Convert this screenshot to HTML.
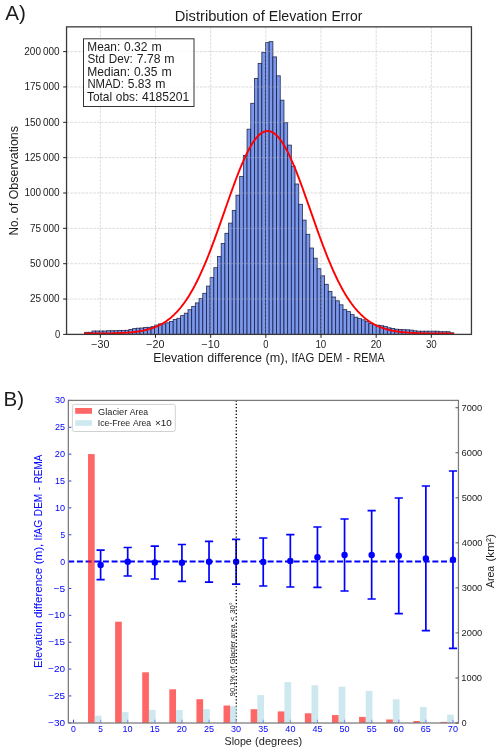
<!DOCTYPE html>
<html><head><meta charset="utf-8"><title>Elevation Error</title>
<style>svg{will-change:transform;}html,body{margin:0;padding:0;background:#fff;}body{width:500px;height:753px;overflow:hidden;font-family:'Liberation Sans', sans-serif;}</style>
</head><body>
<svg width="500" height="753" viewBox="0 0 500 753" style="display:block;font-family:'Liberation Sans', sans-serif">
<rect width="500" height="753" fill="#fff"/>
<g fill="#7b98ec" stroke="#0a0f30" stroke-opacity="0.8" stroke-width="0.85"><rect x="84.60" y="332.30" width="3.692" height="2.10"/><rect x="88.29" y="332.30" width="3.692" height="2.10"/><rect x="91.98" y="331.00" width="3.692" height="3.40"/><rect x="95.68" y="331.00" width="3.692" height="3.40"/><rect x="99.37" y="331.00" width="3.692" height="3.40"/><rect x="103.06" y="331.00" width="3.692" height="3.40"/><rect x="106.75" y="330.70" width="3.692" height="3.70"/><rect x="110.44" y="330.70" width="3.692" height="3.70"/><rect x="114.14" y="330.70" width="3.692" height="3.70"/><rect x="117.83" y="330.40" width="3.692" height="4.00"/><rect x="121.52" y="330.40" width="3.692" height="4.00"/><rect x="125.21" y="330.30" width="3.692" height="4.10"/><rect x="128.90" y="329.50" width="3.692" height="4.90"/><rect x="132.60" y="328.60" width="3.692" height="5.80"/><rect x="136.29" y="328.20" width="3.692" height="6.20"/><rect x="139.98" y="328.00" width="3.692" height="6.40"/><rect x="143.67" y="327.50" width="3.692" height="6.90"/><rect x="147.36" y="327.30" width="3.692" height="7.10"/><rect x="151.06" y="326.60" width="3.692" height="7.80"/><rect x="154.75" y="325.00" width="3.692" height="9.40"/><rect x="158.44" y="323.90" width="3.692" height="10.50"/><rect x="162.13" y="323.80" width="3.692" height="10.60"/><rect x="165.82" y="322.80" width="3.692" height="11.60"/><rect x="169.52" y="321.50" width="3.692" height="12.90"/><rect x="173.21" y="319.50" width="3.692" height="14.90"/><rect x="176.90" y="318.30" width="3.692" height="16.10"/><rect x="180.59" y="315.60" width="3.692" height="18.80"/><rect x="184.28" y="313.20" width="3.692" height="21.20"/><rect x="187.98" y="309.70" width="3.692" height="24.70"/><rect x="191.67" y="306.40" width="3.692" height="28.00"/><rect x="195.36" y="302.90" width="3.692" height="31.50"/><rect x="199.05" y="298.60" width="3.692" height="35.80"/><rect x="202.74" y="293.30" width="3.692" height="41.10"/><rect x="206.44" y="286.10" width="3.692" height="48.30"/><rect x="210.13" y="277.60" width="3.692" height="56.80"/><rect x="213.82" y="267.70" width="3.692" height="66.70"/><rect x="217.51" y="256.40" width="3.692" height="78.00"/><rect x="221.20" y="243.50" width="3.692" height="90.90"/><rect x="224.90" y="233.30" width="3.692" height="101.10"/><rect x="228.59" y="223.10" width="3.692" height="111.30"/><rect x="232.28" y="210.40" width="3.692" height="124.00"/><rect x="235.97" y="195.20" width="3.692" height="139.20"/><rect x="239.66" y="176.40" width="3.692" height="158.00"/><rect x="243.36" y="155.50" width="3.692" height="178.90"/><rect x="247.05" y="129.20" width="3.692" height="205.20"/><rect x="250.74" y="103.30" width="3.692" height="231.10"/><rect x="254.43" y="78.40" width="3.692" height="256.00"/><rect x="258.12" y="63.50" width="3.692" height="270.90"/><rect x="261.82" y="52.30" width="3.692" height="282.10"/><rect x="265.51" y="42.60" width="3.692" height="291.80"/><rect x="269.20" y="41.60" width="3.692" height="292.80"/><rect x="272.89" y="56.90" width="3.692" height="277.50"/><rect x="276.58" y="75.80" width="3.692" height="258.60"/><rect x="280.28" y="100.20" width="3.692" height="234.20"/><rect x="283.97" y="122.70" width="3.692" height="211.70"/><rect x="287.66" y="145.10" width="3.692" height="189.30"/><rect x="291.35" y="166.20" width="3.692" height="168.20"/><rect x="295.04" y="184.00" width="3.692" height="150.40"/><rect x="298.74" y="204.30" width="3.692" height="130.10"/><rect x="302.43" y="220.10" width="3.692" height="114.30"/><rect x="306.12" y="234.30" width="3.692" height="100.10"/><rect x="309.81" y="248.00" width="3.692" height="86.40"/><rect x="313.50" y="258.20" width="3.692" height="76.20"/><rect x="317.20" y="268.70" width="3.692" height="65.70"/><rect x="320.89" y="275.80" width="3.692" height="58.60"/><rect x="324.58" y="284.30" width="3.692" height="50.10"/><rect x="328.27" y="291.40" width="3.692" height="43.00"/><rect x="331.96" y="297.00" width="3.692" height="37.40"/><rect x="335.66" y="300.80" width="3.692" height="33.60"/><rect x="339.35" y="304.80" width="3.692" height="29.60"/><rect x="343.04" y="309.60" width="3.692" height="24.80"/><rect x="346.73" y="311.60" width="3.692" height="22.80"/><rect x="350.42" y="314.60" width="3.692" height="19.80"/><rect x="354.12" y="317.20" width="3.692" height="17.20"/><rect x="357.81" y="318.60" width="3.692" height="15.80"/><rect x="361.50" y="319.80" width="3.692" height="14.60"/><rect x="365.19" y="321.60" width="3.692" height="12.80"/><rect x="368.88" y="323.60" width="3.692" height="10.80"/><rect x="372.58" y="324.70" width="3.692" height="9.70"/><rect x="376.27" y="325.20" width="3.692" height="9.20"/><rect x="379.96" y="325.70" width="3.692" height="8.70"/><rect x="383.65" y="326.50" width="3.692" height="7.90"/><rect x="387.34" y="327.80" width="3.692" height="6.60"/><rect x="391.04" y="328.50" width="3.692" height="5.90"/><rect x="394.73" y="329.20" width="3.692" height="5.20"/><rect x="398.42" y="329.50" width="3.692" height="4.90"/><rect x="402.11" y="329.70" width="3.692" height="4.70"/><rect x="405.80" y="329.80" width="3.692" height="4.60"/><rect x="409.50" y="330.10" width="3.692" height="4.30"/><rect x="413.19" y="330.80" width="3.692" height="3.60"/><rect x="416.88" y="331.20" width="3.692" height="3.20"/><rect x="420.57" y="331.20" width="3.692" height="3.20"/><rect x="424.26" y="331.20" width="3.692" height="3.20"/><rect x="427.96" y="331.20" width="3.692" height="3.20"/><rect x="431.65" y="331.20" width="3.692" height="3.20"/><rect x="435.34" y="331.20" width="3.692" height="3.20"/><rect x="439.03" y="331.70" width="3.692" height="2.70"/><rect x="442.72" y="331.70" width="3.692" height="2.70"/><rect x="446.42" y="331.70" width="3.692" height="2.70"/><rect x="450.11" y="332.80" width="3.692" height="1.60"/></g>
<path d="M100.35 26.85V334.4 M155.52 26.85V334.4 M210.68 26.85V334.4 M265.85 26.85V334.4 M321.02 26.85V334.4 M376.18 26.85V334.4 M431.35 26.85V334.4 M66.55 299.05H471.45 M66.55 263.70H471.45 M66.55 228.35H471.45 M66.55 193.00H471.45 M66.55 157.65H471.45 M66.55 122.30H471.45 M66.55 86.95H471.45 M66.55 51.60H471.45" stroke="#b0b0b0" stroke-opacity="0.6" stroke-width="0.75" stroke-dasharray="2.66 1.15" fill="none"/>
<path d="M83.97,333.58 L85.20,333.58 L86.43,333.57 L87.66,333.57 L88.90,333.57 L90.13,333.56 L91.36,333.56 L92.59,333.55 L93.83,333.54 L95.06,333.54 L96.29,333.53 L97.52,333.52 L98.76,333.51 L99.99,333.50 L101.22,333.49 L102.45,333.48 L103.69,333.46 L104.92,333.45 L106.15,333.43 L107.38,333.41 L108.62,333.39 L109.85,333.36 L111.08,333.34 L112.32,333.31 L113.55,333.28 L114.78,333.24 L116.01,333.20 L117.25,333.16 L118.48,333.12 L119.71,333.07 L120.94,333.01 L122.18,332.95 L123.41,332.88 L124.64,332.81 L125.87,332.73 L127.11,332.65 L128.34,332.55 L129.57,332.45 L130.80,332.34 L132.04,332.22 L133.27,332.09 L134.50,331.95 L135.73,331.80 L136.97,331.63 L138.20,331.45 L139.43,331.26 L140.67,331.05 L141.90,330.82 L143.13,330.58 L144.36,330.32 L145.60,330.04 L146.83,329.74 L148.06,329.41 L149.29,329.07 L150.53,328.70 L151.76,328.30 L152.99,327.87 L154.22,327.42 L155.46,326.94 L156.69,326.42 L157.92,325.87 L159.15,325.28 L160.39,324.66 L161.62,324.00 L162.85,323.30 L164.08,322.56 L165.32,321.77 L166.55,320.94 L167.78,320.05 L169.02,319.13 L170.25,318.14 L171.48,317.11 L172.71,316.02 L173.95,314.88 L175.18,313.67 L176.41,312.41 L177.64,311.09 L178.88,309.70 L180.11,308.25 L181.34,306.73 L182.57,305.15 L183.81,303.49 L185.04,301.77 L186.27,299.98 L187.50,298.11 L188.74,296.17 L189.97,294.16 L191.20,292.07 L192.43,289.91 L193.67,287.68 L194.90,285.37 L196.13,282.98 L197.37,280.52 L198.60,277.99 L199.83,275.39 L201.06,272.71 L202.30,269.97 L203.53,267.15 L204.76,264.27 L205.99,261.32 L207.23,258.31 L208.46,255.24 L209.69,252.11 L210.92,248.92 L212.16,245.68 L213.39,242.40 L214.62,239.06 L215.85,235.69 L217.09,232.28 L218.32,228.84 L219.55,225.37 L220.78,221.88 L222.02,218.37 L223.25,214.85 L224.48,211.33 L225.72,207.80 L226.95,204.27 L228.18,200.76 L229.41,197.27 L230.65,193.79 L231.88,190.35 L233.11,186.95 L234.34,183.58 L235.58,180.27 L236.81,177.01 L238.04,173.81 L239.27,170.69 L240.51,167.64 L241.74,164.67 L242.97,161.79 L244.20,159.00 L245.44,156.32 L246.67,153.74 L247.90,151.28 L249.13,148.94 L250.37,146.72 L251.60,144.62 L252.83,142.67 L254.07,140.85 L255.30,139.17 L256.53,137.65 L257.76,136.27 L259.00,135.04 L260.23,133.98 L261.46,133.07 L262.69,132.33 L263.93,131.75 L265.16,131.33 L266.39,131.08 L267.62,131.00 L268.86,131.08 L270.09,131.34 L271.32,131.75 L272.55,132.34 L273.79,133.08 L275.02,133.99 L276.25,135.06 L277.48,136.29 L278.72,137.67 L279.95,139.20 L281.18,140.87 L282.42,142.69 L283.65,144.65 L284.88,146.75 L286.11,148.97 L287.35,151.32 L288.58,153.78 L289.81,156.36 L291.04,159.04 L292.28,161.83 L293.51,164.71 L294.74,167.68 L295.97,170.73 L297.21,173.86 L298.44,177.05 L299.67,180.31 L300.90,183.63 L302.14,186.99 L303.37,190.40 L304.60,193.84 L305.83,197.31 L307.07,200.81 L308.30,204.32 L309.53,207.85 L310.77,211.38 L312.00,214.90 L313.23,218.42 L314.46,221.93 L315.70,225.42 L316.93,228.89 L318.16,232.33 L319.39,235.74 L320.63,239.11 L321.86,242.44 L323.09,245.73 L324.32,248.96 L325.56,252.15 L326.79,255.28 L328.02,258.35 L329.25,261.36 L330.49,264.31 L331.72,267.19 L332.95,270.01 L334.18,272.75 L335.42,275.43 L336.65,278.03 L337.88,280.56 L339.12,283.02 L340.35,285.40 L341.58,287.71 L342.81,289.94 L344.05,292.10 L345.28,294.19 L346.51,296.20 L347.74,298.14 L348.98,300.00 L350.21,301.79 L351.44,303.52 L352.67,305.17 L353.91,306.75 L355.14,308.27 L356.37,309.72 L357.60,311.11 L358.84,312.43 L360.07,313.69 L361.30,314.89 L362.53,316.04 L363.77,317.13 L365.00,318.16 L366.23,319.14 L367.47,320.07 L368.70,320.95 L369.93,321.78 L371.16,322.57 L372.40,323.31 L373.63,324.01 L374.86,324.67 L376.09,325.29 L377.33,325.88 L378.56,326.43 L379.79,326.94 L381.02,327.43 L382.26,327.88 L383.49,328.30 L384.72,328.70 L385.95,329.07 L387.19,329.42 L388.42,329.74 L389.65,330.04 L390.88,330.32 L392.12,330.58 L393.35,330.83 L394.58,331.05 L395.82,331.26 L397.05,331.45 L398.28,331.63 L399.51,331.80 L400.75,331.95 L401.98,332.09 L403.21,332.22 L404.44,332.34 L405.68,332.45 L406.91,332.55 L408.14,332.65 L409.37,332.73 L410.61,332.81 L411.84,332.88 L413.07,332.95 L414.30,333.01 L415.54,333.07 L416.77,333.12 L418.00,333.16 L419.23,333.20 L420.47,333.24 L421.70,333.28 L422.93,333.31 L424.17,333.34 L425.40,333.36 L426.63,333.39 L427.86,333.41 L429.10,333.43 L430.33,333.45 L431.56,333.46 L432.79,333.48 L434.03,333.49 L435.26,333.50 L436.49,333.51 L437.72,333.52 L438.96,333.53 L440.19,333.54 L441.42,333.54 L442.65,333.55 L443.89,333.56 L445.12,333.56 L446.35,333.57 L447.58,333.57 L448.82,333.57 L450.05,333.58 L451.28,333.58 L452.52,333.58 L453.75,333.58" stroke="#ff0000" stroke-width="1.9" fill="none" stroke-linejoin="round"/>
<rect x="66.55" y="26.85" width="404.90" height="307.55" fill="none" stroke="#3a3a3a" stroke-width="1.3"/>
<path d="M100.35 334.4v3.4 M155.52 334.4v3.4 M210.68 334.4v3.4 M265.85 334.4v3.4 M321.02 334.4v3.4 M376.18 334.4v3.4 M431.35 334.4v3.4 M66.55 334.40h-3.4 M66.55 299.05h-3.4 M66.55 263.70h-3.4 M66.55 228.35h-3.4 M66.55 193.00h-3.4 M66.55 157.65h-3.4 M66.55 122.30h-3.4 M66.55 86.95h-3.4 M66.55 51.60h-3.4" stroke="#222" stroke-width="1.0" fill="none"/>
<text x="91.18" y="348.00" font-size="10.00" fill="#1c1c1c" textLength="18.19" lengthAdjust="spacingAndGlyphs">−30</text>
<text x="146.35" y="348.00" font-size="10.00" fill="#1c1c1c" textLength="18.19" lengthAdjust="spacingAndGlyphs">−20</text>
<text x="201.51" y="348.00" font-size="10.00" fill="#1c1c1c" textLength="18.19" lengthAdjust="spacingAndGlyphs">−10</text>
<text x="263.23" y="348.00" font-size="10.00" fill="#1c1c1c" textLength="5.21" lengthAdjust="spacingAndGlyphs">0</text>
<text x="315.41" y="348.00" font-size="10.00" fill="#1c1c1c" textLength="10.84" lengthAdjust="spacingAndGlyphs">10</text>
<text x="370.66" y="348.00" font-size="10.00" fill="#1c1c1c" textLength="10.91" lengthAdjust="spacingAndGlyphs">20</text>
<text x="425.93" y="348.00" font-size="10.00" fill="#1c1c1c" textLength="10.81" lengthAdjust="spacingAndGlyphs">30</text>
<text x="54.93" y="337.65" font-size="10.00" fill="#1c1c1c" textLength="5.21" lengthAdjust="spacingAndGlyphs">0</text>
<text x="29.97" y="302.30" font-size="10.00" fill="#1c1c1c" textLength="29.69" lengthAdjust="spacingAndGlyphs">25 000</text>
<text x="30.07" y="266.95" font-size="10.00" fill="#1c1c1c" textLength="29.59" lengthAdjust="spacingAndGlyphs">50 000</text>
<text x="30.01" y="231.60" font-size="10.00" fill="#1c1c1c" textLength="29.65" lengthAdjust="spacingAndGlyphs">75 000</text>
<text x="24.38" y="196.25" font-size="10.00" fill="#1c1c1c" textLength="35.30" lengthAdjust="spacingAndGlyphs">100 000</text>
<text x="24.38" y="160.90" font-size="10.00" fill="#1c1c1c" textLength="35.30" lengthAdjust="spacingAndGlyphs">125 000</text>
<text x="24.38" y="125.55" font-size="10.00" fill="#1c1c1c" textLength="35.30" lengthAdjust="spacingAndGlyphs">150 000</text>
<text x="24.38" y="90.20" font-size="10.00" fill="#1c1c1c" textLength="35.30" lengthAdjust="spacingAndGlyphs">175 000</text>
<text x="24.31" y="54.85" font-size="10.00" fill="#1c1c1c" textLength="35.36" lengthAdjust="spacingAndGlyphs">200 000</text>
<text x="174.70" y="21.30" font-size="14.20" fill="#1c1c1c" textLength="73.58" lengthAdjust="spacingAndGlyphs">Distribution</text>
<text x="252.48" y="21.30" font-size="14.20" fill="#1c1c1c" textLength="12.27" lengthAdjust="spacingAndGlyphs">of</text>
<text x="268.70" y="21.30" font-size="14.20" fill="#1c1c1c" textLength="58.42" lengthAdjust="spacingAndGlyphs">Elevation</text>
<text x="331.46" y="21.30" font-size="14.20" fill="#1c1c1c" textLength="30.87" lengthAdjust="spacingAndGlyphs">Error</text>
<text x="153.29" y="361.90" font-size="12.24" fill="#1c1c1c" textLength="50.38" lengthAdjust="spacingAndGlyphs">Elevation</text>
<text x="207.38" y="361.90" font-size="12.24" fill="#1c1c1c" textLength="54.62" lengthAdjust="spacingAndGlyphs">difference</text>
<text x="265.63" y="361.90" font-size="12.24" fill="#1c1c1c" textLength="22.46" lengthAdjust="spacingAndGlyphs">(m),</text>
<text x="291.59" y="361.90" font-size="12.24" fill="#1c1c1c" textLength="22.63" lengthAdjust="spacingAndGlyphs">IfAG</text>
<text x="317.96" y="361.90" font-size="12.24" fill="#1c1c1c" textLength="24.28" lengthAdjust="spacingAndGlyphs">DEM</text>
<text x="345.91" y="361.90" font-size="12.24" fill="#1c1c1c" textLength="3.93" lengthAdjust="spacingAndGlyphs">-</text>
<text x="353.52" y="361.90" font-size="12.24" fill="#1c1c1c" textLength="31.04" lengthAdjust="spacingAndGlyphs">REMA</text>
<g transform="translate(18.2,180.5) rotate(-90)">
<text x="-54.90" y="0.00" font-size="12.47" fill="#1c1c1c" textLength="18.08" lengthAdjust="spacingAndGlyphs">No.</text>
<text x="-33.03" y="0.00" font-size="12.47" fill="#1c1c1c" textLength="10.77" lengthAdjust="spacingAndGlyphs">of</text>
<text x="-18.85" y="0.00" font-size="12.47" fill="#1c1c1c" textLength="73.28" lengthAdjust="spacingAndGlyphs">Observations</text>
</g>
<text x="5.20" y="20.00" font-size="20.87" fill="#1c1c1c" textLength="20.65" lengthAdjust="spacingAndGlyphs">A)</text>
<rect x="83.5" y="38.8" width="110.5" height="67.7" fill="#fff" fill-opacity="0.82" stroke="#000" stroke-opacity="0.8" stroke-width="1.0"/>
<text x="87.34" y="50.50" font-size="12.16" fill="#1c1c1c" textLength="32.87" lengthAdjust="spacingAndGlyphs">Mean:</text>
<text x="124.02" y="50.50" font-size="12.16" fill="#1c1c1c" textLength="23.41" lengthAdjust="spacingAndGlyphs">0.32</text>
<text x="151.53" y="50.50" font-size="12.16" fill="#1c1c1c" textLength="10.24" lengthAdjust="spacingAndGlyphs">m</text>
<text x="87.38" y="63.00" font-size="12.16" fill="#1c1c1c" textLength="17.60" lengthAdjust="spacingAndGlyphs">Std</text>
<text x="108.78" y="63.00" font-size="12.16" fill="#1c1c1c" textLength="24.10" lengthAdjust="spacingAndGlyphs">Dev:</text>
<text x="136.81" y="63.00" font-size="12.16" fill="#1c1c1c" textLength="23.64" lengthAdjust="spacingAndGlyphs">7.78</text>
<text x="164.28" y="63.00" font-size="12.16" fill="#1c1c1c" textLength="10.24" lengthAdjust="spacingAndGlyphs">m</text>
<text x="87.32" y="75.50" font-size="12.16" fill="#1c1c1c" textLength="42.74" lengthAdjust="spacingAndGlyphs">Median:</text>
<text x="133.91" y="75.50" font-size="12.16" fill="#1c1c1c" textLength="23.45" lengthAdjust="spacingAndGlyphs">0.35</text>
<text x="161.42" y="75.50" font-size="12.16" fill="#1c1c1c" textLength="10.24" lengthAdjust="spacingAndGlyphs">m</text>
<text x="87.38" y="88.00" font-size="12.16" fill="#1c1c1c" textLength="36.44" lengthAdjust="spacingAndGlyphs">NMAD:</text>
<text x="127.82" y="88.00" font-size="12.16" fill="#1c1c1c" textLength="23.40" lengthAdjust="spacingAndGlyphs">5.83</text>
<text x="155.22" y="88.00" font-size="12.16" fill="#1c1c1c" textLength="10.24" lengthAdjust="spacingAndGlyphs">m</text>
<text x="86.91" y="100.50" font-size="12.09" fill="#1c1c1c" textLength="25.25" lengthAdjust="spacingAndGlyphs">Total</text>
<text x="115.87" y="100.50" font-size="12.09" fill="#1c1c1c" textLength="22.42" lengthAdjust="spacingAndGlyphs">obs:</text>
<text x="142.11" y="100.50" font-size="12.09" fill="#1c1c1c" textLength="47.26" lengthAdjust="spacingAndGlyphs">4185201</text>
<path d="M68.35 561.5H458.45" stroke="#0000ff" stroke-width="1.8" stroke-dasharray="5.95 2.72" stroke-dashoffset="0.1" fill="none"/>
<path d="M100.61 550.10V579.60M96.51 550.10h8.2M96.51 579.60h8.2 M127.71 547.50V576.00M123.61 547.50h8.2M123.61 576.00h8.2 M154.81 546.20V579.00M150.72 546.20h8.2M150.72 579.00h8.2 M181.92 544.50V581.30M177.82 544.50h8.2M177.82 581.30h8.2 M209.03 541.30V582.10M204.93 541.30h8.2M204.93 582.10h8.2 M236.13 539.40V584.20M232.03 539.40h8.2M232.03 584.20h8.2 M263.24 538.00V586.00M259.13 538.00h8.2M259.13 586.00h8.2 M290.34 534.60V587.00M286.24 534.60h8.2M286.24 587.00h8.2 M317.45 527.00V587.40M313.35 527.00h8.2M313.35 587.40h8.2 M344.55 519.00V591.00M340.45 519.00h8.2M340.45 591.00h8.2 M371.66 510.60V599.00M367.56 510.60h8.2M367.56 599.00h8.2 M398.76 498.00V613.60M394.66 498.00h8.2M394.66 613.60h8.2 M425.87 486.00V630.60M421.76 486.00h8.2M421.76 630.60h8.2 M452.97 471.00V648.40M448.87 471.00h8.2M448.87 648.40h8.2" stroke="#0000ff" stroke-width="1.7" fill="none"/>
<circle cx="100.61" cy="565.00" r="3.2" fill="#0000ff"/>
<circle cx="127.71" cy="561.80" r="3.2" fill="#0000ff"/>
<circle cx="154.81" cy="562.50" r="3.2" fill="#0000ff"/>
<circle cx="181.92" cy="562.80" r="3.2" fill="#0000ff"/>
<circle cx="209.03" cy="561.80" r="3.2" fill="#0000ff"/>
<circle cx="236.13" cy="561.80" r="3.2" fill="#0000ff"/>
<circle cx="263.24" cy="562.00" r="3.2" fill="#0000ff"/>
<circle cx="290.34" cy="560.90" r="3.2" fill="#0000ff"/>
<circle cx="317.45" cy="557.20" r="3.2" fill="#0000ff"/>
<circle cx="344.55" cy="555.00" r="3.2" fill="#0000ff"/>
<circle cx="371.66" cy="554.90" r="3.2" fill="#0000ff"/>
<circle cx="398.76" cy="555.80" r="3.2" fill="#0000ff"/>
<circle cx="425.87" cy="558.40" r="3.2" fill="#0000ff"/>
<circle cx="452.97" cy="559.70" r="3.2" fill="#0000ff"/>
<path d="M236.3 400.4V723.0" stroke="#000" stroke-width="1.35" stroke-dasharray="1.3 2.02" fill="none"/>
<g transform="translate(234.6,695.8) rotate(-90)">
<text x="-0.33" y="0.00" font-size="7.50" fill="#111" textLength="21.00" lengthAdjust="spacingAndGlyphs">90.1%</text>
<text x="22.97" y="0.00" font-size="7.50" fill="#111" textLength="6.48" lengthAdjust="spacingAndGlyphs">of</text>
<text x="31.47" y="0.00" font-size="7.50" fill="#111" textLength="23.65" lengthAdjust="spacingAndGlyphs">Glacier</text>
<text x="57.23" y="0.00" font-size="7.50" fill="#111" textLength="14.15" lengthAdjust="spacingAndGlyphs">area</text>
<text x="74.40" y="0.00" font-size="7.50" fill="#111" textLength="5.03" lengthAdjust="spacingAndGlyphs">&lt;</text>
<text x="82.05" y="0.00" font-size="7.50" fill="#111" textLength="11.50" lengthAdjust="spacingAndGlyphs">30°</text>
</g>
<path d="M68.35 722.79h3 M68.35 695.93h3 M68.35 669.06h3 M68.35 642.20h3 M68.35 615.33h3 M68.35 588.47h3 M68.35 561.60h3 M68.35 534.74h3 M68.35 507.87h3 M68.35 481.00h3 M68.35 454.14h3 M68.35 427.27h3 M68.35 400.41h3 M73.50 723.0v-3.3 M100.61 723.0v-3.3 M127.71 723.0v-3.3 M154.81 723.0v-3.3 M181.92 723.0v-3.3 M209.03 723.0v-3.3 M236.13 723.0v-3.3 M263.24 723.0v-3.3 M290.34 723.0v-3.3 M317.45 723.0v-3.3 M344.55 723.0v-3.3 M371.66 723.0v-3.3 M398.76 723.0v-3.3 M425.87 723.0v-3.3 M452.97 723.0v-3.3" stroke="#0000ff" stroke-width="0.8" fill="none"/>
<g fill="#ff0000" fill-opacity="0.6"><rect x="88.01" y="454.10" width="6.7" height="268.90"/><rect x="115.11" y="621.70" width="6.7" height="101.30"/><rect x="142.22" y="672.30" width="6.7" height="50.70"/><rect x="169.32" y="689.30" width="6.7" height="33.70"/><rect x="196.43" y="699.20" width="6.7" height="23.80"/><rect x="223.53" y="705.50" width="6.7" height="17.50"/><rect x="250.64" y="709.20" width="6.7" height="13.80"/><rect x="277.74" y="711.40" width="6.7" height="11.60"/><rect x="304.85" y="713.30" width="6.7" height="9.70"/><rect x="331.95" y="715.10" width="6.7" height="7.90"/><rect x="359.06" y="716.90" width="6.7" height="6.10"/><rect x="386.16" y="719.50" width="6.7" height="3.50"/><rect x="413.26" y="721.00" width="6.7" height="2.00"/><rect x="440.37" y="721.90" width="6.7" height="1.10"/></g>
<g fill="#add8e6" fill-opacity="0.6"><rect x="94.70" y="715.70" width="6.7" height="7.30"/><rect x="121.81" y="712.10" width="6.7" height="10.90"/><rect x="148.91" y="709.90" width="6.7" height="13.10"/><rect x="176.02" y="710.00" width="6.7" height="13.00"/><rect x="203.12" y="709.10" width="6.7" height="13.90"/><rect x="230.23" y="706.00" width="6.7" height="17.00"/><rect x="257.34" y="695.10" width="6.7" height="27.90"/><rect x="284.44" y="682.10" width="6.7" height="40.90"/><rect x="311.55" y="685.20" width="6.7" height="37.80"/><rect x="338.65" y="686.70" width="6.7" height="36.30"/><rect x="365.76" y="690.90" width="6.7" height="32.10"/><rect x="392.86" y="699.30" width="6.7" height="23.70"/><rect x="419.97" y="707.00" width="6.7" height="16.00"/><rect x="447.07" y="714.70" width="6.7" height="8.30"/></g>
<rect x="68.35" y="400.4" width="390.10" height="322.60" fill="none" stroke="#7a7a7a" stroke-width="1.25"/>
<path d="M458.45 723.00h-3 M458.45 677.96h-3 M458.45 632.92h-3 M458.45 587.88h-3 M458.45 542.84h-3 M458.45 497.80h-3 M458.45 452.76h-3 M458.45 407.72h-3" stroke="#444" stroke-width="0.9" fill="none"/>
<text x="48.10" y="725.84" font-size="9.32" fill="#0000ff" textLength="16.97" lengthAdjust="spacingAndGlyphs">−30</text>
<text x="48.27" y="698.98" font-size="9.32" fill="#0000ff" textLength="16.84" lengthAdjust="spacingAndGlyphs">−25</text>
<text x="48.10" y="672.11" font-size="9.32" fill="#0000ff" textLength="16.97" lengthAdjust="spacingAndGlyphs">−20</text>
<text x="48.27" y="645.25" font-size="9.32" fill="#0000ff" textLength="16.84" lengthAdjust="spacingAndGlyphs">−15</text>
<text x="48.10" y="618.38" font-size="9.32" fill="#0000ff" textLength="16.97" lengthAdjust="spacingAndGlyphs">−10</text>
<text x="53.53" y="591.51" font-size="9.32" fill="#0000ff" textLength="11.58" lengthAdjust="spacingAndGlyphs">−5</text>
<text x="60.16" y="564.65" font-size="9.32" fill="#0000ff" textLength="4.86" lengthAdjust="spacingAndGlyphs">0</text>
<text x="60.43" y="537.78" font-size="9.32" fill="#0000ff" textLength="4.62" lengthAdjust="spacingAndGlyphs">5</text>
<text x="54.93" y="510.92" font-size="9.32" fill="#0000ff" textLength="10.11" lengthAdjust="spacingAndGlyphs">10</text>
<text x="55.10" y="484.06" font-size="9.32" fill="#0000ff" textLength="9.97" lengthAdjust="spacingAndGlyphs">15</text>
<text x="54.86" y="457.19" font-size="9.32" fill="#0000ff" textLength="10.18" lengthAdjust="spacingAndGlyphs">20</text>
<text x="55.04" y="430.32" font-size="9.32" fill="#0000ff" textLength="10.05" lengthAdjust="spacingAndGlyphs">25</text>
<text x="54.96" y="403.46" font-size="9.32" fill="#0000ff" textLength="10.08" lengthAdjust="spacingAndGlyphs">30</text>
<text x="71.05" y="732.20" font-size="9.32" fill="#0000ff" textLength="4.86" lengthAdjust="spacingAndGlyphs">0</text>
<text x="98.30" y="732.20" font-size="9.32" fill="#0000ff" textLength="4.62" lengthAdjust="spacingAndGlyphs">5</text>
<text x="122.48" y="732.20" font-size="9.32" fill="#0000ff" textLength="10.11" lengthAdjust="spacingAndGlyphs">10</text>
<text x="149.68" y="732.20" font-size="9.32" fill="#0000ff" textLength="9.97" lengthAdjust="spacingAndGlyphs">15</text>
<text x="176.77" y="732.20" font-size="9.32" fill="#0000ff" textLength="10.18" lengthAdjust="spacingAndGlyphs">20</text>
<text x="203.97" y="732.20" font-size="9.32" fill="#0000ff" textLength="10.05" lengthAdjust="spacingAndGlyphs">25</text>
<text x="231.08" y="732.20" font-size="9.32" fill="#0000ff" textLength="10.08" lengthAdjust="spacingAndGlyphs">30</text>
<text x="258.27" y="732.20" font-size="9.32" fill="#0000ff" textLength="9.95" lengthAdjust="spacingAndGlyphs">35</text>
<text x="285.37" y="732.20" font-size="9.32" fill="#0000ff" textLength="10.11" lengthAdjust="spacingAndGlyphs">40</text>
<text x="312.56" y="732.20" font-size="9.32" fill="#0000ff" textLength="9.98" lengthAdjust="spacingAndGlyphs">45</text>
<text x="339.50" y="732.20" font-size="9.32" fill="#0000ff" textLength="10.08" lengthAdjust="spacingAndGlyphs">50</text>
<text x="366.69" y="732.20" font-size="9.32" fill="#0000ff" textLength="9.95" lengthAdjust="spacingAndGlyphs">55</text>
<text x="393.59" y="732.20" font-size="9.32" fill="#0000ff" textLength="10.22" lengthAdjust="spacingAndGlyphs">60</text>
<text x="420.78" y="732.20" font-size="9.32" fill="#0000ff" textLength="10.09" lengthAdjust="spacingAndGlyphs">65</text>
<text x="447.85" y="732.20" font-size="9.32" fill="#0000ff" textLength="10.13" lengthAdjust="spacingAndGlyphs">70</text>
<text x="461.65" y="726.05" font-size="9.32" fill="#1c1c1c" textLength="4.86" lengthAdjust="spacingAndGlyphs">0</text>
<text x="461.30" y="681.01" font-size="9.32" fill="#1c1c1c" textLength="20.69" lengthAdjust="spacingAndGlyphs">1000</text>
<text x="461.53" y="635.97" font-size="9.32" fill="#1c1c1c" textLength="20.75" lengthAdjust="spacingAndGlyphs">2000</text>
<text x="461.63" y="590.93" font-size="9.32" fill="#1c1c1c" textLength="20.65" lengthAdjust="spacingAndGlyphs">3000</text>
<text x="461.81" y="545.89" font-size="9.32" fill="#1c1c1c" textLength="20.68" lengthAdjust="spacingAndGlyphs">4000</text>
<text x="461.63" y="500.85" font-size="9.32" fill="#1c1c1c" textLength="20.65" lengthAdjust="spacingAndGlyphs">5000</text>
<text x="461.53" y="455.81" font-size="9.32" fill="#1c1c1c" textLength="20.79" lengthAdjust="spacingAndGlyphs">6000</text>
<text x="461.53" y="410.77" font-size="9.32" fill="#1c1c1c" textLength="20.71" lengthAdjust="spacingAndGlyphs">7000</text>
<text x="224.54" y="745.40" font-size="11.10" fill="#1c1c1c" textLength="27.27" lengthAdjust="spacingAndGlyphs">Slope</text>
<text x="255.10" y="745.40" font-size="11.10" fill="#1c1c1c" textLength="47.17" lengthAdjust="spacingAndGlyphs">(degrees)</text>
<g transform="translate(42.1,560.9) rotate(-90)">
<text x="-107.06" y="0.00" font-size="11.29" fill="#0000ff" textLength="46.45" lengthAdjust="spacingAndGlyphs">Elevation</text>
<text x="-57.19" y="0.00" font-size="11.29" fill="#0000ff" textLength="50.36" lengthAdjust="spacingAndGlyphs">difference</text>
<text x="-3.48" y="0.00" font-size="11.29" fill="#0000ff" textLength="20.71" lengthAdjust="spacingAndGlyphs">(m),</text>
<text x="20.46" y="0.00" font-size="11.29" fill="#0000ff" textLength="20.87" lengthAdjust="spacingAndGlyphs">IfAG</text>
<text x="44.77" y="0.00" font-size="11.29" fill="#0000ff" textLength="22.39" lengthAdjust="spacingAndGlyphs">DEM</text>
<text x="70.54" y="0.00" font-size="11.29" fill="#0000ff" textLength="3.62" lengthAdjust="spacingAndGlyphs">-</text>
<text x="77.56" y="0.00" font-size="11.29" fill="#0000ff" textLength="28.62" lengthAdjust="spacingAndGlyphs">REMA</text>
</g>
<g transform="translate(493.8,561.5) rotate(-90)">
<text x="-26.56" y="0.00" font-size="11.34" fill="#1c1c1c" textLength="22.25" lengthAdjust="spacingAndGlyphs">Area</text>
<text x="-0.05" y="0.00" font-size="11.34" fill="#1c1c1c" textLength="27.34" lengthAdjust="spacingAndGlyphs">(km²)</text>
</g>
<text x="3.56" y="406.20" font-size="20.87" fill="#1c1c1c" textLength="20.51" lengthAdjust="spacingAndGlyphs">B)</text>
<rect x="72.4" y="404.4" width="102.9" height="27.1" rx="2" fill="#fff" fill-opacity="0.8" stroke="#cccccc" stroke-width="0.9"/>
<rect x="75.2" y="408.0" width="16.8" height="5.8" fill="#ff0000" fill-opacity="0.6"/>
<rect x="75.2" y="420.2" width="16.8" height="5.6" fill="#add8e6" fill-opacity="0.6"/>
<text x="98.04" y="414.50" font-size="9.27" fill="#1c1c1c" textLength="29.21" lengthAdjust="spacingAndGlyphs">Glacier</text>
<text x="129.79" y="414.50" font-size="9.27" fill="#1c1c1c" textLength="18.17" lengthAdjust="spacingAndGlyphs">Area</text>
<text x="97.71" y="426.30" font-size="9.27" fill="#1c1c1c" textLength="32.52" lengthAdjust="spacingAndGlyphs">Ice-Free</text>
<text x="132.91" y="426.30" font-size="9.27" fill="#1c1c1c" textLength="18.17" lengthAdjust="spacingAndGlyphs">Area</text>
<text x="154.90" y="426.30" font-size="9.27" fill="#1c1c1c" textLength="16.77" lengthAdjust="spacingAndGlyphs">×10</text>
</svg>
</body></html>
